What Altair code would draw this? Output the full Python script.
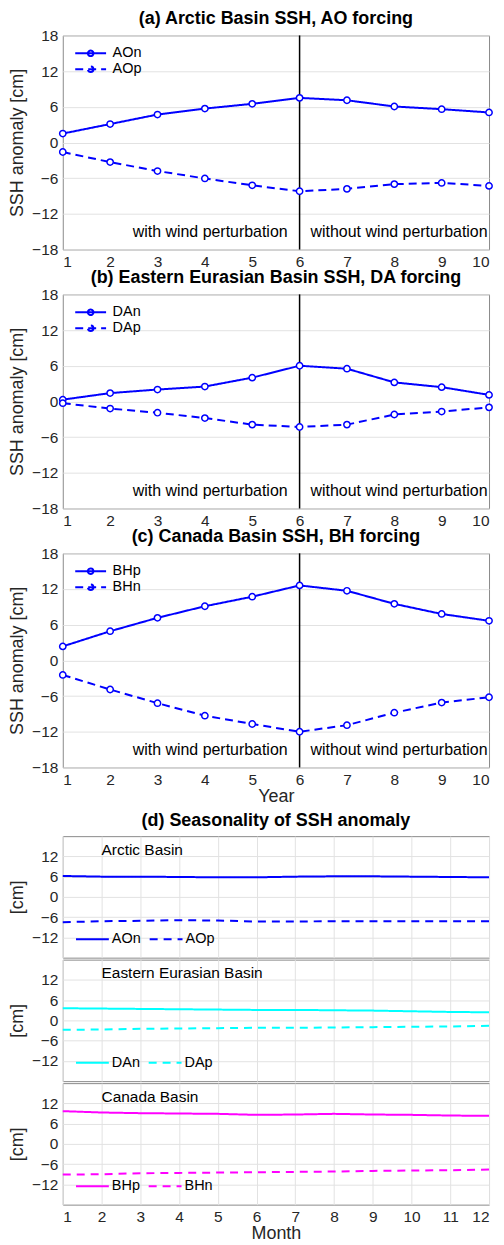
import altair as alt
import pandas as pd

FONT = "Liberation Sans"
BLUE = "#0000ff"
CYAN = "#00ffff"
MAGENTA = "#ff00ff"

years = list(range(1, 11))
months = list(range(1, 13))
split_year = 6

# Panel (a)
AOn = [1.5, 3.1, 4.7, 5.7, 6.5, 7.5, 7.1, 6.05, 5.6, 5.05]
AOp = [-1.6, -3.3, -4.8, -6.05, -7.2, -8.2, -7.8, -7.0, -6.8, -7.3]
# Panel (b)
DAn = [0.3, 1.4, 2.0, 2.5, 4.0, 6.0, 5.5, 3.2, 2.4, 1.1]
DAp = [-0.3, -1.2, -1.9, -2.8, -3.9, -4.3, -3.9, -2.2, -1.7, -1.0]
# Panel (c)
BHp = [2.35, 4.9, 7.15, 9.1, 10.7, 12.6, 11.7, 9.5, 7.8, 6.65]
BHn = [-2.45, -4.9, -7.2, -9.3, -10.7, -12.0, -10.9, -8.8, -7.1, -6.2]

# Panel (d) seasonality
AOn_m = [6.2, 6.0, 6.0, 5.9, 5.8, 5.8, 6.0, 6.1, 6.1, 6.0, 5.9, 5.8]
AOp_m = [-7.5, -7.2, -7.1, -6.9, -7.0, -7.3, -7.3, -7.2, -7.2, -7.2, -7.2, -7.2]
DAn_m = [3.6, 3.5, 3.4, 3.3, 3.2, 3.1, 3.1, 3.0, 2.9, 2.7, 2.5, 2.4]
DAp_m = [-2.8, -2.7, -2.5, -2.4, -2.3, -2.2, -2.2, -2.1, -2.0, -1.9, -1.8, -1.6]
BHp_m = [9.7, 9.3, 9.1, 9.0, 8.9, 8.6, 8.7, 8.9, 8.7, 8.6, 8.4, 8.3]
BHn_m = [-9.1, -9.0, -8.7, -8.6, -8.5, -8.4, -8.3, -8.2, -8.0, -7.9, -7.8, -7.6]

year_ticks = [-18, -12, -6, 0, 6, 12, 18]
month_ticks = [-12, -6, 0, 6, 12]

LEG_PATH_MARK = "M-2,0H2M0.36,0A0.36,0.36,0,1,1,-0.36,0A0.36,0.36,0,1,1,0.36,0"
LEG_PATH_LINE = "M-2,0H2"

one = pd.DataFrame({"k": [0]})

W = 428
LABEL_SIZE = 15.5
TITLE_SIZE = 18
HEAD_SIZE = 18


def xscale(lo, hi):
    return alt.Scale(domain=[lo, hi], nice=False, zero=False)


def year_panel(title, names, v1, v2, xtitle):
    df = pd.DataFrame({
        "Year": years + years,
        "v": v1 + v2,
        "s": [names[0]] * len(years) + [names[1]] * len(years),
    })
    x = alt.X("Year:Q", scale=xscale(1, 10),
              axis=alt.Axis(values=years, tickCount=50, format="d", title=xtitle,
                            titlePadding=0, labelPadding=5, labelOverlap=False))
    y = alt.Y("v:Q", scale=alt.Scale(domain=[-18, 18], nice=False, zero=False),
              axis=alt.Axis(values=year_ticks, tickCount=50, format="d",
                            title="SSH anomaly [cm]", titlePadding=5, labelOverlap=False))
    dash = alt.StrokeDash(
        "s:N",
        scale=alt.Scale(domain=names, range=[[1, 0], [8, 5]]),
        legend=alt.Legend(title=None, orient="top-left", offset=9, padding=0,
                          symbolType=LEG_PATH_MARK, symbolSize=240,
                          symbolStrokeWidth=2, symbolStrokeColor=BLUE,
                          symbolFillColor="white", symbolOffset=10,
                          labelOffset=13, rowPadding=0,
                          labelFont=FONT, labelFontSize=14.5, labelColor="#000000"),
    )
    lines = alt.Chart(df).mark_line(color=BLUE, strokeWidth=2).encode(x=x, y=y, strokeDash=dash)
    pts = alt.Chart(df).mark_point(shape="circle", filled=True, fill="white", stroke=BLUE,
                                   strokeWidth=1.5, size=40, opacity=1).encode(
        x=x, y=y, detail="s:N")
    rule = alt.Chart(one).mark_rule(color="black", strokeWidth=1.5).encode(
        x=alt.X(datum=split_year, scale=xscale(1, 10)))
    t1 = alt.Chart(one).mark_text(align="right", baseline="middle", dx=-12, fontSize=16,
                                  font=FONT, color="#000000").encode(
        x=alt.X(datum=split_year, scale=xscale(1, 10)), y=alt.datum(-15),
        text=alt.value("with wind perturbation"))
    t2 = alt.Chart(one).mark_text(align="left", baseline="middle", dx=11, fontSize=16,
                                  font=FONT, color="#000000").encode(
        x=alt.X(datum=split_year, scale=xscale(1, 10)), y=alt.datum(-15),
        text=alt.value("without wind perturbation"))
    return alt.layer(rule, lines, pts, t1, t2).properties(
        width=W, height=215,
        title=alt.Title(title, fontSize=HEAD_SIZE, fontWeight="bold", font=FONT,
                        color="#000000", offset=0))


def month_panel(label, names, v1, v2, color, title=None, last=False):
    df = pd.DataFrame({
        "Month": months + months,
        "v": v1 + v2,
        "s": [names[0]] * len(months) + [names[1]] * len(months),
    })
    x = alt.X("Month:Q", scale=xscale(1, 12),
              axis=alt.Axis(values=months, tickCount=50, format="d",
                            title="Month" if last else None,
                            labels=last, titlePadding=0, labelPadding=5,
                            labelOverlap=False))
    y = alt.Y("v:Q", scale=alt.Scale(domain=[-18, 18], nice=False, zero=False),
              axis=alt.Axis(values=month_ticks, tickCount=50, format="d", title="[cm]",
                            titlePadding=5, labelOverlap=False))
    dash = alt.StrokeDash(
        "s:N",
        scale=alt.Scale(domain=names, range=[[1, 0], [8, 6]]),
        legend=alt.Legend(title=None, orient="bottom-left", direction="horizontal",
                          offset=12, padding=0,
                          symbolType=LEG_PATH_LINE, symbolSize=272,
                          symbolStrokeWidth=2, symbolStrokeColor=color,
                          symbolOffset=8.25, labelOffset=10, columnPadding=4,
                          labelFont=FONT, labelFontSize=14.5, labelColor="#000000"),
    )
    lines = alt.Chart(df).mark_line(color=color, strokeWidth=2).encode(x=x, y=y, strokeDash=dash)
    txt = alt.Chart(one).mark_text(align="left", baseline="middle", fontSize=15.5,
                                   font=FONT, color="#000000").encode(
        x=alt.X(datum=2, scale=xscale(1, 12)), y=alt.datum(14), text=alt.value(label))
    props = dict(width=W, height=122)
    if title:
        props["title"] = alt.Title(title, fontSize=HEAD_SIZE, fontWeight="bold", font=FONT,
                                   color="#000000", offset=6)
    return alt.layer(lines, txt).properties(**props)


pa = year_panel("(a) Arctic Basin SSH, AO forcing", ["AOn", "AOp"], AOn, AOp, None)
pb = year_panel("(b) Eastern Eurasian Basin SSH, DA forcing", ["DAn", "DAp"], DAn, DAp, None)
pc = year_panel("(c) Canada Basin SSH, BH forcing", ["BHp", "BHn"], BHp, BHn, "Year")

d1 = month_panel("Arctic Basin", ["AOn", "AOp"], AOn_m, AOp_m, BLUE,
                 title="(d) Seasonality of SSH anomaly")
d2 = month_panel("Eastern Eurasian Basin", ["DAn", "DAp"], DAn_m, DAp_m, CYAN)
d3 = month_panel("Canada Basin", ["BHp", "BHn"], BHp_m, BHn_m, MAGENTA, last=True)

top = alt.vconcat(pa, pb, pc, spacing=45, bounds="flush").resolve_scale(strokeDash="independent")
bottom = alt.vconcat(d1, d2, d3, spacing=2, bounds="flush").resolve_scale(strokeDash="independent")

chart = alt.vconcat(top, bottom, spacing=5).resolve_scale(strokeDash="independent").properties(
    padding={"left": 0, "top": -1, "right": 0, "bottom": 0},
    background="white",
).configure_axis(
    labelFont=FONT, labelFontSize=LABEL_SIZE, labelColor="#262626",
    titleFont=FONT, titleFontSize=TITLE_SIZE, titleFontWeight="normal", titleColor="#262626",
    gridColor="#e2e2e2", gridWidth=1, domain=False, ticks=False, labelPadding=5,
).configure_view(
    stroke="#8a8a8a", strokeWidth=1
)

chart.save("out.html", embed_options={"renderer": "svg", "actions": False})
